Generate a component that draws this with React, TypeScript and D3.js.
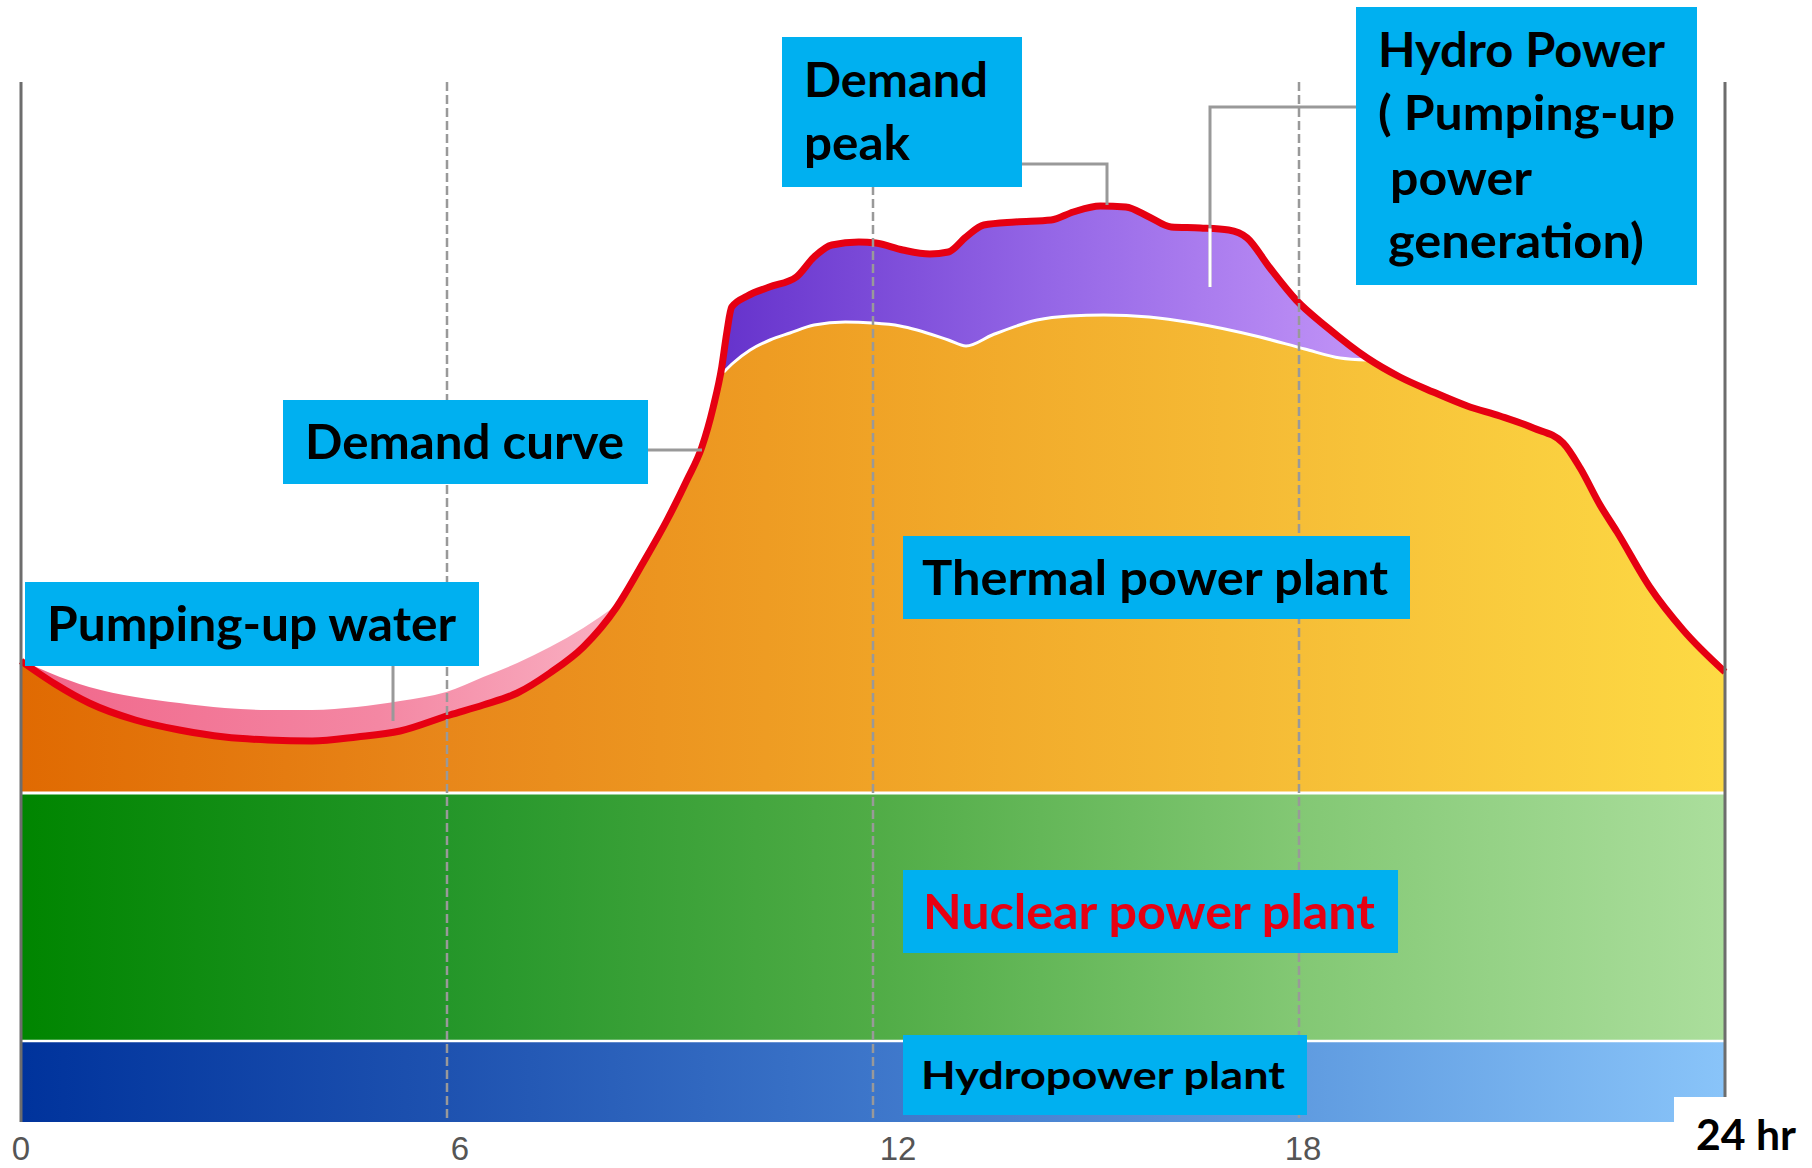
import React from 'react';
import * as d3 from 'd3';

// demand curve over the day (hour, load units)
const demandHours = [0, 0.48, 0.96, 1.61, 2.23, 2.87, 3.48, 4.1, 4.73, 5.34, 6.04, 6.51, 6.99, 7.45, 7.92, 8.39, 8.76, 9.1, 9.38, 9.59, 9.75, 9.87, 9.94, 10.01, 10.23, 10.54, 10.92, 11.17, 11.42, 11.8, 12.04, 12.42, 12.8, 13.06, 13.31, 13.56, 14.0, 14.51, 14.82, 15.2, 15.56, 15.89, 16.2, 16.61, 17.01, 17.27, 17.58, 17.96, 18.39, 18.96, 19.42, 19.89, 20.37, 20.83, 21.3, 21.72, 21.96, 22.24, 22.48, 22.94, 23.41, 24];
const demandValues = [46.1, 43.8, 41.9, 40.2, 39.2, 38.5, 38.2, 38.1, 38.5, 39.1, 40.7, 41.7, 42.9, 44.9, 47.5, 51.5, 55.9, 60.2, 64.2, 67.5, 71.5, 75.5, 78.9, 81.5, 82.6, 83.5, 84.5, 86.5, 87.7, 88.0, 87.9, 87.2, 86.8, 87.0, 88.5, 89.7, 90.0, 90.2, 91.0, 91.6, 91.5, 90.5, 89.5, 89.4, 89.2, 88.4, 85.5, 82.2, 79.5, 76.4, 74.5, 73.0, 71.6, 70.6, 69.4, 67.9, 65.4, 61.7, 59.0, 53.5, 49.2, 45.0];

// thermal output during the daytime peak (the rest is pumped-storage hydro)
const peakHours = [9.9, 10.03, 10.27, 10.55, 10.83, 11.17, 11.61, 11.99, 12.38, 12.62, 13.06, 13.31, 13.68, 14.31, 14.77, 15.25, 15.89, 16.51, 17.45, 18.08, 18.58, 18.96];
const thermalTopValues = [75.0, 75.9, 77.2, 78.2, 78.9, 79.7, 80.0, 79.9, 79.6, 79.2, 78.2, 77.6, 78.7, 80.2, 80.6, 80.7, 80.5, 79.9, 78.5, 77.3, 76.4, 76.2];

// night load incl. pumping-up water
const pumpHours = [0, 0.41, 0.96, 1.61, 2.23, 2.87, 3.48, 4.1, 4.73, 5.34, 5.99, 6.51, 6.99, 7.45, 7.92, 8.39];
const pumpTopValues = [46.2, 44.9, 43.5, 42.5, 41.9, 41.4, 41.2, 41.2, 41.5, 42.1, 43.0, 44.5, 45.9, 47.5, 49.4, 51.7];

// base-load bands
const hydroTop = 8.1;
const nuclearTop = 32.9;

const tickHours = [0, 6, 12, 18];
const tickLabels = ['0', '6', '12', '18'];
const gridHours = [6, 12, 18];

const BOX = '#00b0f0';
const FONT = 'Lato, Carlito, "Open Sans", sans-serif';

type Pt = [number, number];

function Grad({ id, x1, x2, stops }: { id: string; x1: number; x2: number; stops: [number, string][] }) {
  return (
    <linearGradient id={id} gradientUnits="userSpaceOnUse" x1={x1} x2={x2} y1={0} y2={0}>
      {stops.map(([o, c], i) => <stop key={i} offset={o} stopColor={c} />)}
    </linearGradient>
  );
}

function Label({ x, y, text, width, size = 47, color = '#000' }: { x: number; y: number; text: string; width: number; size?: number; color?: string }) {
  return (
    <text x={x} y={y} fontFamily={FONT} fontWeight={700} fontSize={size} fill={color}
      textLength={width} lengthAdjust="spacingAndGlyphs">{text}</text>
  );
}

export default function App() {
  const width = 1812, height = 1168;
  const x = d3.scaleLinear().domain([0, 24]).range([21, 1725]);
  const y = d3.scaleLinear().domain([0, 110]).range([1122, 22]);

  const demand: Pt[] = demandHours.map((h, i) => [h, demandValues[i]]);
  const thermalTop: Pt[] = peakHours.map((h, i) => [h, thermalTopValues[i]]);
  const pumpTop: Pt[] = pumpHours.map((h, i) => [h, pumpTopValues[i]]);
  const pStartH = peakHours[0], pEndH = peakHours[peakHours.length - 1];
  // thermal supply: follows demand outside the peak, its own curve inside it
  const thermal: Pt[] = [
    ...demand.filter(d => d[0] < pStartH),
    ...thermalTop,
    ...demand.filter(d => d[0] > pEndH),
  ];

  const area = d3.area<Pt>()
    .x(d => x(d[0]))
    .y0(y(nuclearTop))
    .y1(d => y(d[1]))
    .curve(d3.curveMonotoneX);
  const line = d3.line<Pt>()
    .x(d => x(d[0]))
    .y(d => y(d[1]))
    .curve(d3.curveMonotoneX);

  const x0 = x(0), x24 = x(24);

  return (
    <svg width={width} height={height} style={{ position: 'absolute', left: 0, top: 0, background: '#fff' }}>
      <defs>
        <Grad id="blue" x1={x0} x2={x24} stops={[[0, '#00339c'], [0.25, '#1e52b0'], [0.5, '#3d76ca'], [0.75, '#5f9be0'], [1, '#89c4f9']]} />
        <Grad id="green" x1={x0} x2={x24} stops={[[0, '#008500'], [0.25, '#249629'], [0.5, '#50ac46'], [0.75, '#83c874'], [1, '#abde9c']]} />
        <Grad id="orange" x1={x0} x2={x24} stops={[[0, '#e06a02'], [0.25, '#e8871a'], [0.5, '#f0a326'], [0.75, '#f6be37'], [1, '#fdda44']]} />
        <Grad id="purple" x1={x(pStartH)} x2={x(pEndH)} stops={[[0, '#6633cc'], [0.5, '#9466e6'], [1, '#c193f7']]} />
        <Grad id="pink" x1={x0} x2={x(pumpHours[pumpHours.length - 1])} stops={[[0, '#f0668a'], [0.6, '#f487a3'], [1, '#f9b0c2']]} />
        <clipPath id="underDemand">
          <path d={area(demand) ?? ''} />
        </clipPath>
      </defs>

      {/* base-load bands */}
      <rect x={x0} y={y(hydroTop)} width={x24 - x0} height={y(0) - y(hydroTop)} fill="url(#blue)" />
      <rect x={x0} y={y(nuclearTop)} width={x24 - x0} height={y(hydroTop) - y(nuclearTop)} fill="url(#green)" />

      {/* pumping-up water, peak hydro, thermal */}
      <path d={area(pumpTop) ?? ''} fill="url(#pink)" />
      <path d={area(demand) ?? ''} fill="url(#purple)" />
      <path d={area(thermal) ?? ''} fill="url(#orange)" />
      <path d={line(thermalTop) ?? ''} fill="none" stroke="#fff" strokeWidth={3} />

      {/* band separators */}
      <line x1={x0} x2={x24} y1={y(nuclearTop)} y2={y(nuclearTop)} stroke="#fff" strokeWidth={3} />
      <line x1={x0} x2={x24} y1={y(hydroTop)} y2={y(hydroTop)} stroke="#fff" strokeWidth={2.5} />

      {/* demand curve */}
      <path d={line(demand) ?? ''} fill="none" stroke="#e60012" strokeWidth={7} strokeLinejoin="round" />

      {/* grid */}
      {gridHours.map(h => (
        <line key={h} x1={x(h)} x2={x(h)} y1={82} y2={y(0)} stroke="#999" strokeWidth={2.5} strokeDasharray="9 4" />
      ))}
      <line x1={x0} x2={x0} y1={82} y2={y(0)} stroke="#6d6d6d" strokeWidth={3} />
      <line x1={x24} x2={x24} y1={82} y2={y(0)} stroke="#6d6d6d" strokeWidth={3} />

      {/* leader lines */}
      <g fill="none" stroke="#999" strokeWidth={3}>
        <polyline points="1022,164 1107,164 1107,205" />
        <polyline points="1356,107 1210,107 1210,287" />
        <line x1={648} y1={450} x2={702} y2={450} />
        <line x1={393} y1={666} x2={393} y2={721} />
      </g>
      <line x1={1210} y1={107} x2={1210} y2={287} stroke="#fff" strokeWidth={3} clipPath="url(#underDemand)" />

      {/* callout boxes */}
      <rect x={782} y={37} width={240} height={150} fill={BOX} />
      <Label x={804} y={97} text="Demand" width={184} />
      <Label x={804} y={160} text="peak" width={106} />

      <rect x={1356} y={7} width={341} height={278} fill={BOX} />
      <Label x={1378} y={67} text="Hydro Power" width={287} />
      <Label x={1378} y={130} text="( Pumping-up" width={297} />
      <Label x={1390} y={195} text="power" width={142} />
      <Label x={1388} y={258} text="generation)" width={256} />

      <rect x={283} y={400} width={365} height={84} fill={BOX} />
      <Label x={305} y={459} text="Demand curve" width={319} />

      <rect x={25} y={582} width={454} height={84} fill={BOX} />
      <Label x={47} y={641} text="Pumping-up water" width={409} />

      <rect x={903} y={536} width={507} height={83} fill={BOX} />
      <Label x={922} y={595} text="Thermal power plant" width={466} />

      <rect x={903} y={870} width={495} height={83} fill={BOX} />
      <Label x={923} y={929} text="Nuclear power plant" width={452} color="#e60012" />

      <rect x={903} y={1035} width={404} height={80} fill={BOX} />
      <Label x={921} y={1089} text="Hydropower plant" width={364} size={38} />

      {/* x axis labels */}
      <rect x={1674} y={1097} width={width - 1674} height={height - 1097} fill="#fff" />
      {tickHours.map((h, i) => (
        <text key={h} x={x(h) + [0, 13, 25, 4][i]} y={1160} textAnchor="middle"
          fontFamily='"Liberation Sans", Arial, sans-serif' fontSize={33} fill="#555">{tickLabels[i]}</text>
      ))}
      <Label x={1696} y={1150} text="24 hr" width={100} size={42} />
    </svg>
  );
}
